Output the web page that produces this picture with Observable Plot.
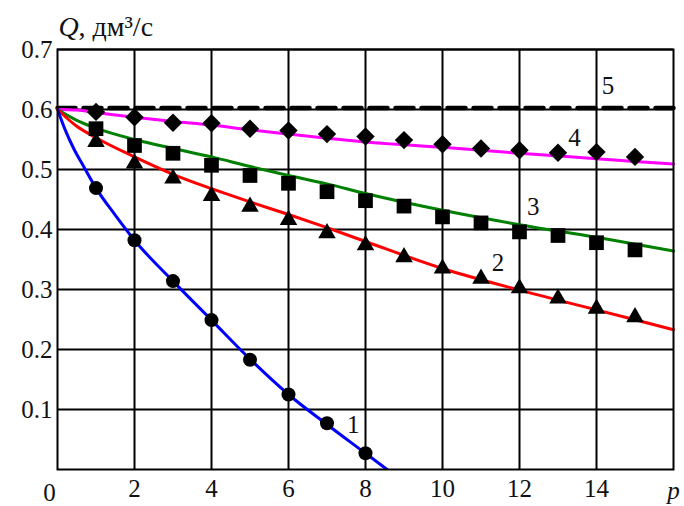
<!DOCTYPE html>
<html>
<head>
<meta charset="utf-8">
<script src="https://cdn.jsdelivr.net/npm/d3@7"></script>
<script src="https://cdn.jsdelivr.net/npm/@observablehq/plot@0.6"></script>
<style>
  html, body { margin: 0; padding: 0; background: #fff; }
  #chart svg, #chart svg text { font-family: "Liberation Serif", "Times New Roman", serif !important; }
</style>
</head>
<body>
<div id="chart"></div>
<script>
// ---- data ----
const xTicks = [2, 4, 6, 8, 10, 12, 14];
const yTicks = [0.1, 0.2, 0.3, 0.4, 0.5, 0.6, 0.7];

// measured points (markers)
const pMarks1 = [1, 2, 3, 4, 5, 6, 7, 8];
const qMarks1 = [0.469, 0.382, 0.314, 0.249, 0.183, 0.125, 0.077, 0.027];
const pMarks = [1, 2, 3, 4, 5, 6, 7, 8, 9, 10, 11, 12, 13, 14, 15];
const qMarks2 = [0.546, 0.510, 0.485, 0.456, 0.438, 0.416, 0.394, 0.374, 0.354, 0.335, 0.318, 0.302, 0.285, 0.268, 0.254];
const qMarks3 = [0.568, 0.540, 0.527, 0.507, 0.490, 0.477, 0.463, 0.448, 0.439, 0.421, 0.411, 0.396, 0.390, 0.378, 0.366];
const qMarks4 = [0.596, 0.587, 0.578, 0.577, 0.568, 0.565, 0.559, 0.555, 0.549, 0.542, 0.535, 0.532, 0.528, 0.529, 0.521];

// calculated curves (lines)
const pLine1 = [0, 0.2, 0.42, 0.68, 1, 1.5, 2, 3, 4, 5, 6, 7, 8, 8.56];
const qLine1 = [0.6, 0.566, 0.535, 0.505, 0.469, 0.424, 0.382, 0.314, 0.249, 0.184, 0.125, 0.075, 0.027, 0];
const pLine = [0, 0.5, 1, 2, 3, 4, 5, 6, 7, 8, 10, 12, 14, 16];
const qLine2 = [0.6, 0.572, 0.553, 0.521, 0.492, 0.468, 0.446, 0.425, 0.403, 0.380, 0.335, 0.299, 0.266, 0.233];
const qLine3 = [0.6, 0.582, 0.569, 0.550, 0.535, 0.521, 0.505, 0.490, 0.476, 0.460, 0.432, 0.408, 0.387, 0.364];
const qLine4 = [0.6, 0.599, 0.595, 0.587, 0.580, 0.574, 0.566, 0.559, 0.552, 0.546, 0.537, 0.527, 0.518, 0.509];
const pLine5 = [0, 16];
const qLine5 = [0.6, 0.6];

// curve labels
const labelText = ["1", "2", "3", "4", "5"];
const labelP = [7.68, 11.44, 12.36, 13.43, 14.3];
const labelQ = [0.074, 0.344, 0.438, 0.553, 0.640];

const colors = ["#0000ff", "#ff0000", "#008000", "#ff00ff", "#000000"];

// ---- build tables ----
const zip = (ps, qs) => ps.map((p, i) => ({p, q: qs[i]}));
const line1 = zip(pLine1, qLine1);
const line2 = zip(pLine, qLine2);
const line3 = zip(pLine, qLine3);
const line4 = zip(pLine, qLine4);
const line5 = zip(pLine5, qLine5);
const marks1 = zip(pMarks1, qMarks1);
const marks2 = zip(pMarks, qMarks2);
const marks3 = zip(pMarks, qMarks3);
const marks4 = zip(pMarks, qMarks4);
const labels = labelText.map((t, i) => ({t, p: labelP[i], q: labelQ[i]}));

const FONT = "Liberation Serif";
const FS = 25;
const TXT = "#111";

const chart = Plot.plot({
  width: 684,
  height: 506,
  marginLeft: 57,
  marginRight: 11,
  marginTop: 49,
  marginBottom: 37,
  style: {fontFamily: FONT, fontSize: FS + "px", color: TXT, background: "#fff"},
  x: {domain: [0, 16]},
  y: {domain: [0, 0.7]},
  marks: [
    Plot.gridX(xTicks, {stroke: "#000", strokeOpacity: 1, strokeWidth: 2}),
    Plot.gridY(yTicks, {stroke: "#000", strokeOpacity: 1, strokeWidth: 2}),
    Plot.axisX(xTicks, {tickSize: 0, tickPadding: 10, fontSize: FS, fontFamily: FONT, fill: TXT, label: null}),
    Plot.axisY(yTicks, {tickSize: 0, tickPadding: 5, fontSize: FS, fontFamily: FONT, fill: TXT, tickFormat: d3.format(".1f"), label: null}),
    Plot.text([0], {x: d => d, y: 0, text: d => String(d), dx: -8, dy: 23, fontSize: FS, fontFamily: FONT, fill: TXT}),
    Plot.text([16], {x: d => d, y: 0, text: () => "p", dx: 0, dy: 21, fontSize: FS, fontFamily: FONT, fontStyle: "italic", fill: TXT}),
    Plot.line(line5, {x: "p", y: "q", stroke: colors[4], strokeWidth: 4.5, strokeDasharray: "18,8", dy: -1.5}),
    Plot.line(line4, {x: "p", y: "q", stroke: colors[3], strokeWidth: 3, curve: "monotone-x"}),
    Plot.line(line3, {x: "p", y: "q", stroke: colors[2], strokeWidth: 3, curve: "monotone-x"}),
    Plot.line(line2, {x: "p", y: "q", stroke: colors[1], strokeWidth: 3, curve: "monotone-x"}),
    Plot.line(line1, {x: "p", y: "q", stroke: colors[0], strokeWidth: 3, curve: "monotone-x", clip: true}),
    Plot.dot(marks1, {x: "p", y: "q", symbol: "circle", r: 7, fill: "#000"}),
    Plot.dot(marks2, {x: "p", y: "q", symbol: "triangle", r: 6.5, fill: "#000"}),
    Plot.dot(marks3, {x: "p", y: "q", symbol: "square", r: 8.3, fill: "#000"}),
    Plot.dot(marks4, {x: "p", y: "q", symbol: "diamond2", r: 8.3, fill: "#000"}),
    Plot.text(labels, {x: "p", y: "q", text: "t", fontSize: FS, fontFamily: FONT, fill: TXT}),
    Plot.frame({stroke: "#000", strokeWidth: 2}),
    Plot.text(["Q"], {frameAnchor: "top-left", text: d => d, textAnchor: "start", lineAnchor: "bottom", dx: 1, dy: -14, fontSize: 28, fontFamily: FONT, fontStyle: "italic", fill: TXT}),
    Plot.text([", дм³/с"], {frameAnchor: "top-left", text: d => d, textAnchor: "start", lineAnchor: "bottom", dx: 21, dy: -14, fontSize: 28, fontFamily: FONT, fill: TXT})
  ]
});
document.getElementById("chart").appendChild(chart);
</script>
</body>
</html>
